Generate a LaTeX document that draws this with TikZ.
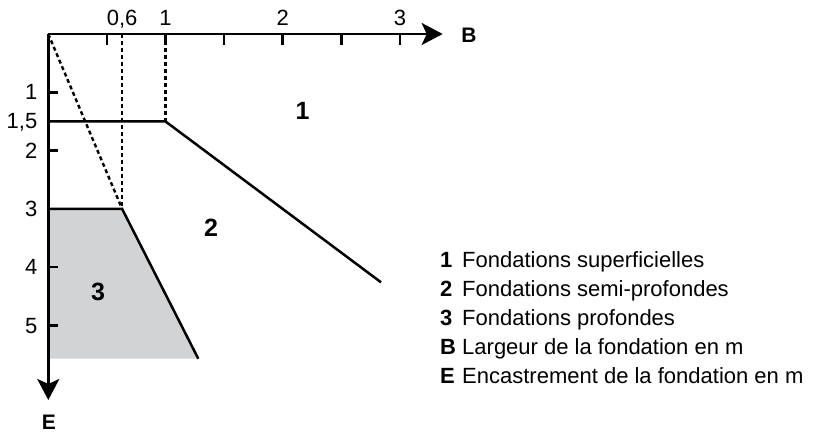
\documentclass[tikz,border=0pt]{standalone}
\usepackage{fontspec}
\setmainfont{Liberation Sans}
\usepackage{xcolor}
\usepackage{tikz}
\usetikzlibrary{arrows.meta,positioning}
\definecolor{gris}{RGB}{209,211,212}

\begin{document}
\begin{tikzpicture}[x=117.2pt,y=-58.3pt,
  axe/.style={line width=2.7pt,-{Stealth[length=21pt,width=22pt,inset=5pt]}},
  trait/.style={line width=2.5pt},
  tirets/.style={line width=2.4pt,dash pattern=on 4pt off 3pt},
  grad/.style={line width=2.5pt},
  lbl/.style={font=\fontsize{22}{26}\selectfont,inner sep=0pt},
  zone/.style={font=\fontsize{25}{30}\selectfont\bfseries,inner sep=0pt},
  leg/.style={font=\fontsize{22}{26}\selectfont,inner sep=0pt,anchor=base west}]

\useasboundingbox (-0.412,-0.583) rectangle (6.593,6.844);

  \coordinate (O) at (0,0);
  \coordinate (Bfin) at (3.365,0);
  \coordinate (Efin) at (0,6.278);
  \coordinate (T06) at (0.63,0);
  \coordinate (T1) at (1,0);
  \coordinate (A0) at (0,1.5);
  \coordinate (A1) at (1,1.5);
  \coordinate (A2) at (2.839,4.259);
  \coordinate (C0) at (0,3);
  \coordinate (C1) at (0.63,3);
  \coordinate (C2) at (1.28,5.57);
  \coordinate (C3) at (0,5.57);

  % zone 3
  \fill[gris] (C0) -- (C1) -- (C2) -- (C3) -- cycle;

  \draw[tirets] (O) -- (C1);
  \draw[tirets] (T06) -- (C1);
  \draw[tirets] (T1) -- (A1);

  \draw[trait] (A0) -- (A1) -- (A2);
  \draw[trait] (C0) -- (C1) -- (C2);

  % graduations
  \foreach \b in {0.5,1,...,3}
    \draw[grad] (\b,0) -- (\b,0.19);
  \foreach \e in {1,2,4,5}
    \draw[grad] (0,\e) -- (0.085,\e);

  \draw[axe] (O) -- (Bfin);
  \draw[axe] (O) -- (Efin);

  \foreach \b/\t/\n in {0.63/{0,6}/a,1/1/b,2/2/c,3/3/d}
    \node[lbl,anchor=base] (gb\n) at (\b,-0.154) {\t};
  \foreach \e/\t/\n in {1/1/a,1.5/{1,5}/b,2/2/c,3/3/d,4/4/e,5/5/f}
    \node[lbl,anchor=base east] (ge\n) at (-0.092,\e+0.129) {\t};

  \node[lbl,font=\fontsize{21}{25}\selectfont\bfseries] (B) at (3.59,0.017) {B};
  \node[lbl,font=\fontsize{21}{25}\selectfont\bfseries] (E) at (0.006,6.664) {E};

  \node[zone] (z1) at (2.17,1.32) {1};
  \node[zone] (z2) at (1.388,3.33) {2};
  \node[zone] (z3) at (0.424,4.43) {3};

  % legende
  \foreach \k/\t [count=\i] in {1/Fondations superficielles,2/Fondations semi-profondes,3/Fondations profondes,B/Largeur de la fondation en m,E/Encastrement de la fondation en m}{
    \node[leg,font=\fontsize{22}{26}\selectfont\bfseries] (cle\i) at (3.342,{4.009+(\i-1)*0.4974}) {\k};
    \node[leg] (txt\i) at (3.530,{4.009+(\i-1)*0.4974}) {\t};
  }
 \end{tikzpicture}
\end{document}
